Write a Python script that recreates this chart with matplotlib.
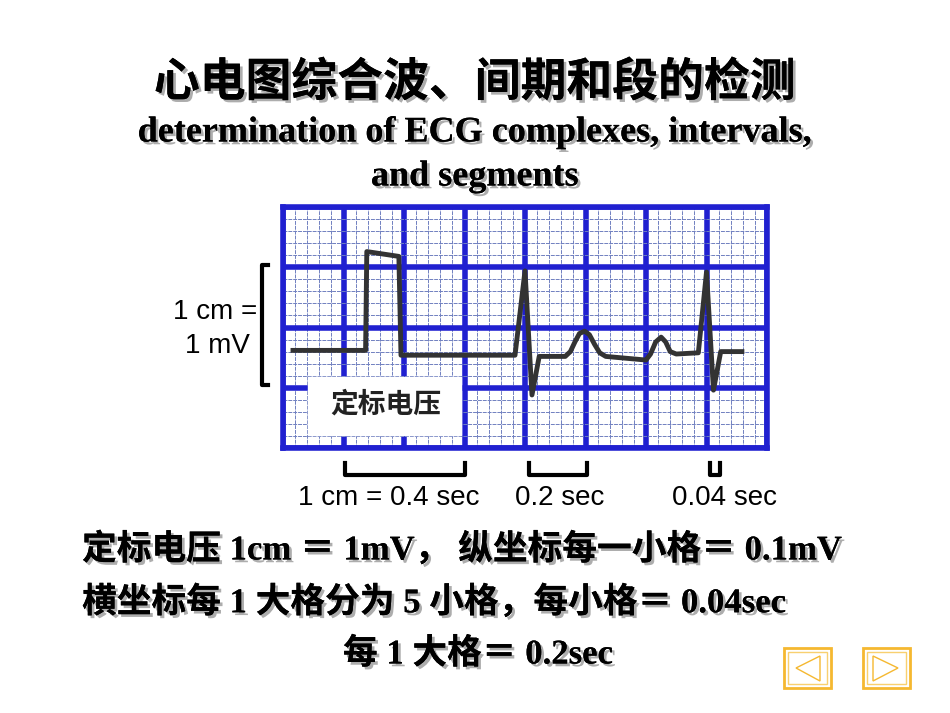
import matplotlib
matplotlib.use('Agg')
import matplotlib.pyplot as plt
import matplotlib.patheffects as pe
from matplotlib.patches import Rectangle, Polygon

# ECG trace (seconds, mV)
t_sec = [0.033, 0.273, 0.277, 0.383, 0.39, 0.767, 0.80, 0.823, 0.847, 0.933, 0.95, 0.965,
         0.98, 0.997, 1.013, 1.03, 1.047, 1.067, 1.2, 1.215, 1.232, 1.25, 1.265, 1.28,
         1.30, 1.373, 1.40, 1.423, 1.447, 1.517]
v_mv = [0.01, 0.01, 0.83, 0.79, -0.03, -0.03, 0.67, -0.36, -0.04, -0.04, 0.0, 0.08,
        0.15, 0.17, 0.14, 0.06, -0.01, -0.04, -0.07, -0.02, 0.08, 0.12, 0.08, 0.0,
        -0.02, -0.01, 0.66, -0.32, 0.0, 0.0]

title_cn = '心电图综合波、间期和段的检测'
title_en = ['determination of ECG complexes, intervals,', 'and segments']
notes = ['定标电压 1cm ＝ 1mV， 纵坐标每一小格＝ 0.1mV',
         '横坐标每 1 大格分为 5 小格，每小格＝ 0.04sec',
         '每 1 大格＝ 0.2sec']
scale_labels = ['1 cm = 0.4 sec', '0.2 sec', '0.04 sec']

fig = plt.figure(figsize=(9.5, 7.13), dpi=100)
bg = fig.add_axes([0, 0, 1, 1])
bg.set_xlim(0, 950)
bg.set_ylim(713, 0)
bg.axis('off')

mix = ['Liberation Serif', 'Noto Sans CJK SC']
shadow = [pe.withSimplePatchShadow(offset=(2, -2), shadow_rgbFace='#999999', alpha=0.8), pe.Normal()]

bg.text(475, 83, title_cn, ha='center', va='center', fontsize=33, fontweight='bold',
        family=['Noto Sans CJK SC'], path_effects=shadow)
bg.text(475, 133, title_en[0], ha='center', va='center', fontsize=26, fontweight='bold',
        family=mix, path_effects=shadow)
bg.text(475, 177, title_en[1], ha='center', va='center', fontsize=26, fontweight='bold',
        family=mix, path_effects=shadow)

bg.text(82, 550, notes[0], ha='left', va='center', fontsize=25, fontweight='bold',
        family=mix, path_effects=shadow)
bg.text(82, 603, notes[1], ha='left', va='center', fontsize=25, fontweight='bold',
        family=mix, path_effects=shadow)
bg.text(478, 655, notes[2], ha='center', va='center', fontsize=25, fontweight='bold',
        family=mix, path_effects=shadow)

# left calibration bracket
bg.plot([268, 262, 262, 268], [265, 265, 385, 385], color='black', lw=3)
bg.text(257, 312, '1 cm =', ha='right', va='center', fontsize=20, family='Liberation Sans')
bg.text(250, 346, '1 mV', ha='right', va='center', fontsize=20, family='Liberation Sans')

# bottom time-scale brackets
for (x0, x1), lab, lx in zip([(345, 465), (529, 587), (710, 720)], scale_labels, [389, 560, 724]):
    bg.plot([x0, x0, x1, x1], [463, 475, 475, 463], color='black', lw=3)
    bg.text(lx, 498, lab, ha='center', va='center', fontsize=20, family='Liberation Sans')

# navigation buttons
for x0, pts in [(784, [(796, 668), (820, 656), (820, 681)]), (863, [(873, 656), (898, 668), (873, 681)])]:
    bg.add_patch(Rectangle((x0, 648), 47, 40, fill=False, ec='#f5b830', lw=2))
    bg.add_patch(Rectangle((x0 + 4, 652), 39, 32, fill=False, ec='#f8d070', lw=1))
    bg.add_patch(Polygon(pts, closed=True, fill=False, ec='#f5b830', lw=1))

# ECG grid
ax = fig.add_axes([283 / 950, 1 - 448 / 713, 484 / 950, 241 / 713])
ax.set_xlim(0, 1.6)
ax.set_ylim(-0.8, 1.2)
for i in range(41):
    x = i * 0.04
    big = i % 5 == 0
    ax.axvline(x, color='#2020d0' if big else '#7080c0', lw=4 if big else 0.7,
               ls='-' if big else (0, (4, 1)), zorder=1)
for i in range(21):
    y = -0.8 + i * 0.1
    big = i % 5 == 0
    ax.axhline(y, color='#2020d0' if big else '#7080c0', lw=4 if big else 0.7,
               ls='-' if big else (0, (4, 1)), zorder=1)
ax.set_facecolor('white')
ax.set_xticks([])
ax.set_yticks([])
for s in ax.spines.values():
    s.set_color('#2020d0')
    s.set_linewidth(4)

ax.add_patch(Rectangle((0.083, -0.69), 0.507, 0.48, color='white', zorder=2))
ax.text(0.34, -0.44, '定标电压', ha='center', va='center', fontsize=20, fontweight='bold',
        family=['Noto Sans CJK SC'], color='#222222', zorder=3)
ax.plot(t_sec, v_mv, color='#333333', lw=3.5, zorder=4)

fig.savefig('out.png', dpi=100)
